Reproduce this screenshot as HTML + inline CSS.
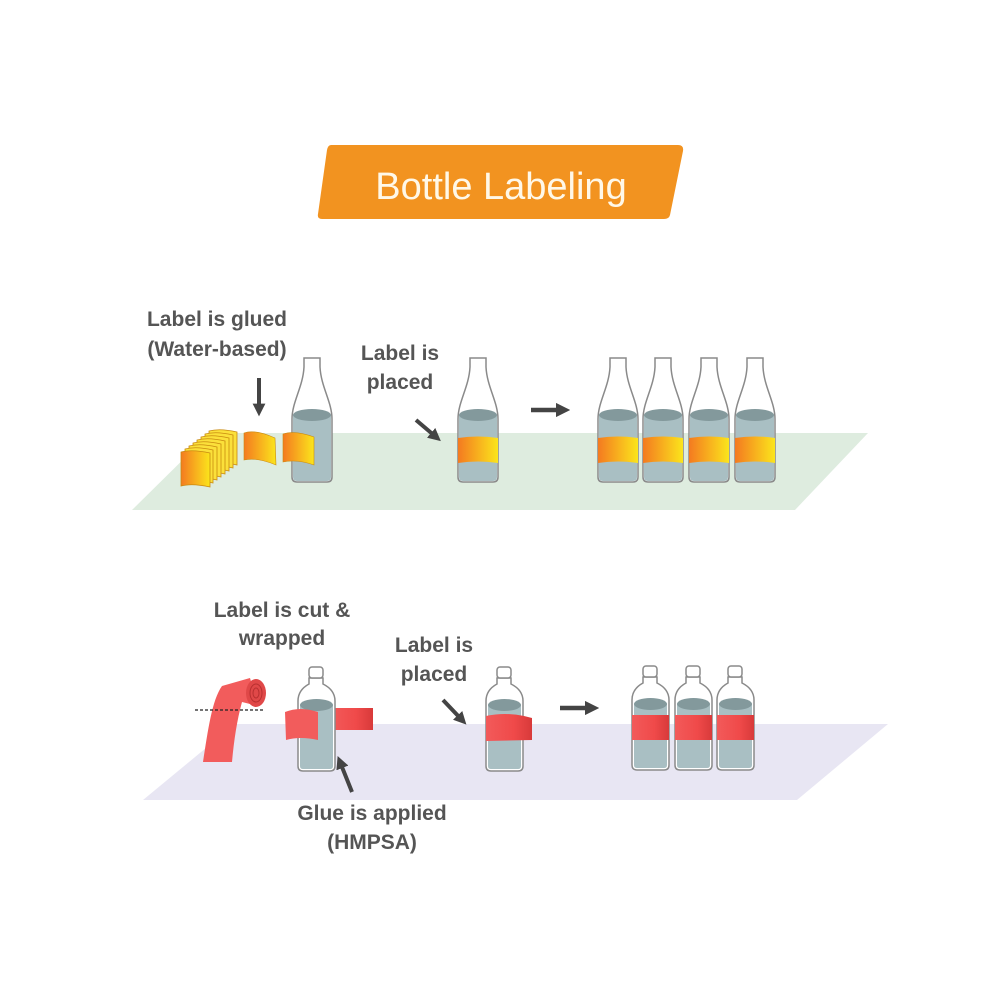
<!DOCTYPE html>
<html><head><meta charset="utf-8"><style>
html,body{margin:0;padding:0;background:#fff}
svg{display:block}
text{font-family:"Liberation Sans",sans-serif}
.lbl{font-weight:bold;font-size:21px;fill:#555;text-anchor:middle}
</style></head><body>
<svg width="1000" height="1000" viewBox="0 0 1000 1000">
<defs>
<linearGradient id="og" x1="0" x2="1"><stop offset="0" stop-color="#f47a20"/><stop offset="1" stop-color="#fbe51c"/></linearGradient>
<linearGradient id="rg" x1="0" x2="1"><stop offset="0" stop-color="#f25a5a"/><stop offset="0.6" stop-color="#f04a4a"/><stop offset="1" stop-color="#d83a3a"/></linearGradient>
<marker id="ah" viewBox="0 0 10 10" refX="5" refY="5" markerWidth="3.2" markerHeight="3.2" orient="auto"><path d="M0,0L10,5L0,10Z" fill="#444"/></marker>
<g id="beer">
 <path d="M1,62 C1,45 12,30 13,10 L13,1 L29,1 L29,10 C30,30 41,45 41,62 L41,120 Q41,125 36,125 L6,125 Q1,125 1,120Z" fill="#fff"/>
 <path d="M2,58 L40,58 L40,120 Q40,124 36,124 L6,124 Q2,124 2,120Z" fill="#a9bfc3"/>
 <ellipse cx="21" cy="58" rx="19" ry="6" fill="#83999c"/>
 <path d="M1,62 C1,45 12,30 13,10 L13,1 L29,1 L29,10 C30,30 41,45 41,62 L41,120 Q41,125 36,125 L6,125 Q1,125 1,120Z" fill="none" stroke="#8a8a8a" stroke-width="1.5"/>
</g>
<g id="beerL">
 <use href="#beer"/>
 <path d="M1,81 Q21,78 41,81 L41,106 Q21,103 1,106Z" fill="url(#og)"/>
</g>
<g id="pb">
 <path d="M1,35 Q1,24 12,18 L12,12 L26,12 L26,18 Q38,24 38,35 L38,100 Q38,105 33,105 L6,105 Q1,105 1,100Z" fill="#fff" stroke="#8a8a8a" stroke-width="1.5"/>
 <rect x="12" y="1" width="14" height="11" rx="3" fill="#fff" stroke="#8a8a8a" stroke-width="1.5"/>
 <path d="M3,39 L36,39 L36,100 Q36,103 33,103 L6,103 Q3,103 3,100Z" fill="#a9bfc3"/>
 <ellipse cx="19.5" cy="39" rx="16.5" ry="6" fill="#83999c"/>
</g>
<g id="pbL">
 <use href="#pb"/>
 <rect x="1" y="50" width="37" height="25" fill="url(#rg)"/>
</g>
</defs>

<path d="M331,145 L678,145 Q684,145 683,151 L670,215 Q669,219 664,219 L322,219 Q317,219 318,214 L327,150 Q328,145 331,145Z" fill="#f29320"/>
<text x="501" y="199" font-size="38" fill="#fff8e8" text-anchor="middle">Bottle Labeling</text>

<path d="M210,433 L868,433 L795,510 L132,510Z" fill="#deecdf"/>
<path d="M235,724 L888,724 L797,800 L143,800Z" fill="#e8e6f3"/>

<text class="lbl" x="217" y="326">Label is glued</text>
<text class="lbl" x="217" y="356">(Water-based)</text>
<text class="lbl" x="400" y="360">Label is</text>
<text class="lbl" x="400" y="389">placed</text>

<g stroke="#c98a10" stroke-width="0.8">
 <path d="M209,431 Q220,428 237,432 L237,465 Q220,461 209,464Z" fill="#fbe03a"/>
 <path d="M205,434 Q216,431 233,435 L233,468 Q216,464 205,467Z" fill="#fbe03a"/>
 <path d="M201,437 Q212,434 229,438 L229,471 Q212,467 201,470Z" fill="#fbe03a"/>
 <path d="M197,440 Q208,437 225,441 L225,474 Q208,470 197,473Z" fill="#fbe03a"/>
 <path d="M193,443 Q204,440 221,444 L221,477 Q204,473 193,476Z" fill="#fbe03a"/>
 <path d="M189,446 Q200,443 217,447 L217,480 Q200,476 189,479Z" fill="#fbe03a"/>
 <path d="M185,449 Q196,446 213,450 L213,483 Q196,479 185,482Z" fill="#fbe03a"/>
 <path d="M181,452 Q192,449 210,453 L210,487 Q192,483 181,486Z" fill="url(#og)"/>
</g>
<path d="M244,433 Q255,429 275,438 L276,465 Q257,457 244,460Z" fill="url(#og)" stroke="#c98a10" stroke-width="0.6"/>
<line x1="259" y1="378" x2="259" y2="410" stroke="#444" stroke-width="4" marker-end="url(#ah)"/>

<use href="#beer" x="291" y="357"/>
<path d="M283,434 Q295,430 314,437 L314,465 Q297,459 283,462Z" fill="url(#og)" stroke="#c98a10" stroke-width="0.6"/>

<line x1="416" y1="420" x2="436" y2="437" stroke="#444" stroke-width="4" marker-end="url(#ah)"/>
<use href="#beerL" x="457" y="357"/>

<line x1="531" y1="410" x2="563" y2="410" stroke="#444" stroke-width="4.5" marker-end="url(#ah)"/>
<use href="#beerL" x="597" y="357"/>
<use href="#beerL" x="642" y="357"/>
<use href="#beerL" x="688" y="357"/>
<use href="#beerL" x="734" y="357"/>

<text class="lbl" x="282" y="617">Label is cut &amp;</text>
<text class="lbl" x="282" y="645">wrapped</text>
<text class="lbl" x="434" y="652">Label is</text>
<text class="lbl" x="434" y="681">placed</text>
<text class="lbl" x="372" y="820">Glue is applied</text>
<text class="lbl" x="372" y="849">(HMPSA)</text>

<path d="M203,762 C208,730 212,700 222,686 L250,678 L258,706 L242,702 C237,720 234,740 232,762Z" fill="#f25c5c"/>
<ellipse cx="256" cy="693" rx="10" ry="14" fill="#e04848"/>
<ellipse cx="256" cy="693" rx="6" ry="9" fill="none" stroke="#b83030" stroke-width="1"/>
<ellipse cx="256" cy="693" rx="3" ry="5" fill="none" stroke="#b83030" stroke-width="1"/>
<line x1="195" y1="710" x2="263" y2="710" stroke="#222" stroke-width="1.2" stroke-dasharray="3,2"/>

<rect x="330" y="708" width="43" height="22" fill="url(#rg)"/>
<use href="#pb" x="297" y="666"/>
<path d="M285,712 Q300,706 318,712 L318,740 Q300,736 286,740Z" fill="#f25c5c"/>
<line x1="352" y1="792" x2="340" y2="762" stroke="#444" stroke-width="4" marker-end="url(#ah)"/>

<line x1="443" y1="700" x2="462" y2="720" stroke="#444" stroke-width="4" marker-end="url(#ah)"/>
<use href="#pb" x="485" y="666"/>
<path d="M486,716 Q505,712 524,716 L532,718 L532,740 L486,741Z" fill="url(#rg)"/>

<line x1="560" y1="708" x2="592" y2="708" stroke="#444" stroke-width="4.5" marker-end="url(#ah)"/>
<use href="#pbL" x="631" y="665"/>
<use href="#pbL" x="674" y="665"/>
<use href="#pbL" x="716" y="665"/>
</svg>
</body></html>
